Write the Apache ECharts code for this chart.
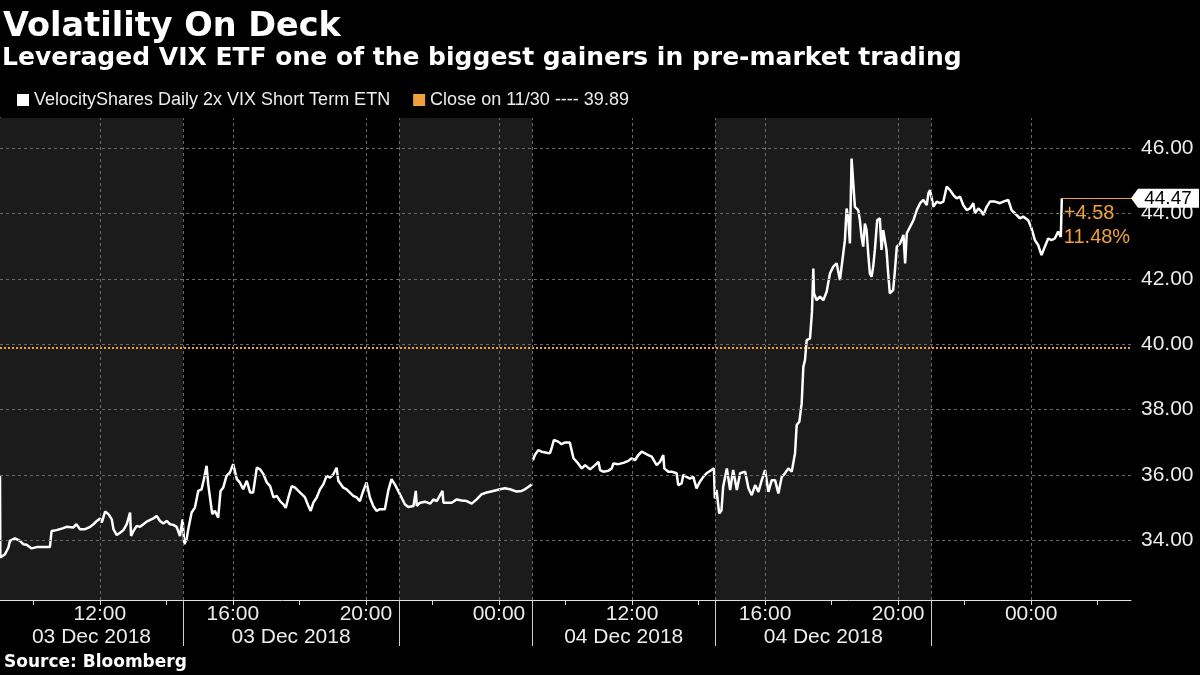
<!DOCTYPE html>
<html><head><meta charset="utf-8">
<script src="https://cdn.jsdelivr.net/npm/echarts@6/dist/echarts.min.js"></script>
<style>html,body{margin:0;padding:0;background:#000;}#c{width:1200px;height:675px;}</style>
</head><body><div id="c"></div>
<script>
// x values are trading hours elapsed since 09:00 London time, 3 Dec 2018 (the overnight gap is left out)
const etnHours = [
  0, 0.01, 0.15, 0.25, 0.30, 0.45, 0.50, 0.60, 0.70, 0.80, 0.95, 1.00, 1.10, 1.30, 1.50, 1.55, 1.70, 1.90, 2.00, 2.20,
  2.30, 2.40, 2.56, 2.71, 2.81, 2.91, 3.01, 3.06, 3.16, 3.26, 3.36, 3.41, 3.51, 3.61, 3.71, 3.81, 3.91, 3.94, 4.01, 4.11,
  4.21, 4.31, 4.41, 4.61, 4.71, 4.81, 4.91, 5.01, 5.11, 5.21, 5.31, 5.41, 5.49, 5.54, 5.61, 5.66, 5.76, 5.86, 5.96, 6.06,
  6.13, 6.21, 6.26, 6.31, 6.38, 6.46, 6.56, 6.63, 6.71, 6.81, 6.91, 7.01, 7.12, 7.21, 7.31, 7.42, 7.52, 7.61, 7.72, 7.82,
  7.92, 8.02, 8.12, 8.22, 8.32, 8.42, 8.52, 8.59, 8.67, 8.77, 8.87, 8.97, 9.07, 9.17, 9.27, 9.34, 9.42, 9.52, 9.62, 9.72,
  9.82, 9.92, 10.02, 10.12, 10.17, 10.32, 10.42, 10.52, 10.62, 10.72, 10.82, 10.92, 11.02, 11.12, 11.22, 11.32, 11.42, 11.57, 11.67, 11.77,
  11.87, 11.97, 12.07, 12.17, 12.27, 12.43, 12.50, 12.53, 12.63, 12.78, 12.93, 13.03, 13.13, 13.30, 13.33, 13.58, 13.73, 13.88, 14.03, 14.18,
  14.33, 14.48, 14.63, 14.83, 15.03, 15.18, 15.33, 15.53, 15.68, 15.78, 15.88, 15.98,
  16.00,
  16.02, 16.08, 16.18, 16.28, 16.43, 16.53, 16.58, 16.65, 16.78, 16.88, 16.98, 17.13, 17.24, 17.34, 17.49, 17.59, 17.74, 17.89, 17.99, 18.04,
  18.14, 18.29, 18.39, 18.44, 18.59, 18.74, 18.89, 18.99, 19.09, 19.19, 19.29, 19.39, 19.49, 19.59, 19.74, 19.84, 19.94, 19.97, 20.09, 20.19,
  20.34, 20.39, 20.49, 20.54, 20.64, 20.74, 20.84, 20.94, 21.04, 21.14, 21.24, 21.39, 21.46, 21.49, 21.54, 21.62, 21.69, 21.74, 21.85, 21.95,
  22.04, 22.15, 22.25, 22.40, 22.50, 22.60, 22.70, 22.80, 22.90, 23.00, 23.10, 23.20, 23.30, 23.40, 23.50, 23.60, 23.70, 23.80, 23.90, 23.95,
  24.03, 24.10, 24.15, 24.20, 24.25, 24.35, 24.41, 24.45, 24.47, 24.55, 24.65, 24.75, 24.85, 24.95, 25.05, 25.15, 25.25, 25.35, 25.40, 25.45,
  25.50, 25.55, 25.60, 25.65, 25.70, 25.80, 25.85, 25.90, 25.95, 26.00, 26.05, 26.10, 26.15, 26.20, 26.25, 26.30, 26.37, 26.45, 26.50, 26.55,
  26.65, 26.70, 26.75, 26.85, 26.90, 26.96, 27.06, 27.16, 27.21, 27.26, 27.36, 27.46, 27.56, 27.66, 27.76, 27.86, 27.91, 27.96, 28.06, 28.16,
  28.26, 28.36, 28.46, 28.56, 28.66, 28.76, 28.86, 28.96, 29.06, 29.16, 29.26, 29.31, 29.41, 29.51, 29.56, 29.66, 29.76, 29.91, 30.06, 30.16,
  30.31, 30.41, 30.56, 30.66, 30.76, 30.91, 31.01, 31.11, 31.21, 31.31, 31.41, 31.51, 31.61, 31.71, 31.81, 31.89, 31.92
];
const etnValues = [
  36.00, 33.47, 33.57, 33.77, 33.98, 34.06, 34.10, 33.98, 33.88, 33.86, 33.75, 33.71, 33.79, 33.79, 33.79, 34.28, 34.31, 34.37, 34.41, 34.39,
  34.49, 34.34, 34.34, 34.41, 34.49, 34.59, 34.67, 34.54, 34.88, 34.80, 34.64, 34.34, 34.16, 34.23, 34.31, 34.49, 34.85, 34.13, 34.28, 34.44,
  34.41, 34.49, 34.57, 34.67, 34.74, 34.59, 34.51, 34.59, 34.49, 34.47, 34.41, 34.13, 34.64, 33.88, 34.03, 34.34, 34.85, 35.00, 35.51, 35.56,
  35.87, 36.28, 35.71, 35.66, 34.80, 34.90, 34.69, 35.51, 35.61, 35.97, 36.07, 36.33, 35.87, 35.77, 35.56, 35.82, 35.46, 35.46, 36.22, 36.17,
  36.02, 35.77, 35.66, 35.31, 35.36, 35.20, 35.10, 34.99, 35.31, 35.66, 35.61, 35.51, 35.41, 35.31, 35.05, 34.90, 35.15, 35.31, 35.56, 35.71,
  35.97, 35.92, 36.02, 36.22, 35.82, 35.61, 35.56, 35.46, 35.36, 35.31, 35.20, 35.51, 35.77, 35.31, 35.05, 34.90, 34.95, 34.95, 35.51, 35.87,
  35.71, 35.51, 35.31, 35.10, 35.02, 35.05, 35.51, 35.05, 35.15, 35.18, 35.12, 35.25, 35.20, 35.51, 35.15, 35.15, 35.25, 35.22, 35.20, 35.12,
  35.25, 35.41, 35.46, 35.51, 35.56, 35.59, 35.56, 35.49, 35.51, 35.56, 35.63, 35.71,
  null,
  36.45, 36.61, 36.76, 36.71, 36.68, 36.66, 36.81, 37.07, 37.02, 36.94, 36.99, 36.99, 36.51, 36.40, 36.20, 36.30, 36.17, 36.30, 36.40, 36.15,
  36.10, 36.13, 36.20, 36.35, 36.33, 36.37, 36.43, 36.51, 36.45, 36.61, 36.71, 36.66, 36.61, 36.56, 36.30, 36.40, 36.61, 36.20, 36.10, 36.10,
  36.05, 35.69, 35.74, 36.00, 35.94, 35.89, 35.94, 35.59, 35.79, 35.94, 36.05, 36.15, 36.20, 35.28, 35.54, 34.82, 34.92, 35.64, 36.20, 35.54,
  36.15, 35.54, 36.05, 36.10, 35.59, 35.38, 35.69, 35.48, 35.84, 36.15, 35.48, 35.84, 35.84, 35.43, 35.94, 36.05, 36.20, 36.10, 36.66, 37.53,
  37.63, 38.19, 39.31, 39.52, 40.13, 40.18, 41.00, 42.32, 41.56, 41.35, 41.46, 41.35, 41.61, 42.17, 42.38, 42.48, 41.97, 42.78, 43.19, 44.16,
  43.86, 43.09, 45.69, 45.64, 44.21, 44.11, 43.80, 43.29, 42.99, 43.70, 43.50, 42.78, 42.17, 42.07, 42.38, 42.89, 43.80, 43.86, 42.89, 43.50,
  42.89, 42.17, 41.56, 41.66, 42.22, 42.99, 43.09, 43.35, 42.48, 43.40, 43.60, 43.80, 44.11, 44.32, 44.42, 44.26, 44.62, 44.72, 44.21, 44.37,
  44.32, 44.37, 44.83, 44.72, 44.57, 44.47, 44.52, 44.26, 44.11, 44.16, 44.32, 44.01, 44.16, 44.06, 43.96, 44.21, 44.37, 44.37, 44.32, 44.37,
  44.42, 44.11, 43.96, 43.86, 43.91, 43.80, 43.55, 43.19, 43.04, 42.73, 42.99, 43.24, 43.19, 43.24, 43.45, 43.29, 44.47
];
const closeValue = 39.89;
const lastValue = 44.47;
const changeAbs = '+4.58';
const changePct = '11.48%';
const hourTicks = [1, 3, 5, 7, 9, 11, 13, 15, 17, 19, 21, 23, 25, 27, 29, 31, 33];
const timeLabelHours = [3, 7, 11, 15, 19, 23, 27, 31];
const timeLabels = ['12:00', '16:00', '20:00', '00:00', '12:00', '16:00', '20:00', '00:00'];
const sessionBounds = [5.5, 12, 16, 21.5, 28];
const shadedSessions = [[0, 5.5], [12, 16], [21.5, 28]];
const dateLabelHours = [2.75, 8.75, 18.75, 24.75];
const dateLabels = ['03 Dec 2018', '03 Dec 2018', '04 Dec 2018', '04 Dec 2018'];
const yLabelValues = [34, 36, 38, 40, 42, 44, 46];
const yTickValues = [33, 34, 35, 36, 37, 38, 39, 40, 41, 42, 43, 44, 45, 46];
const seriesName = 'VelocityShares Daily 2x VIX Short Term ETN';
const closeName = 'Close on 11/30 ---- 39.89';

const FONT = 'Liberation Sans, Arial, sans-serif';
const BOLD_FONT = 'DejaVu Sans, sans-serif';
const TXT = '#ececec';
const ORANGE = '#f0a03a';
const etnData = etnHours.map((h, i) => [h, etnValues[i]]);
const xMin = 0, xMax = 34;

const chart = echarts.init(document.getElementById('c'), null, {renderer: 'canvas'});
chart.setOption({
  backgroundColor: '#000',
  animation: false,
  textStyle: {fontFamily: FONT},
  title: [
    {text: 'Volatility On Deck', left: 3, top: 10, padding: 0,
     textStyle: {color: '#fff', fontSize: 33.5, fontWeight: 'bold', fontFamily: BOLD_FONT}},
    {text: 'Leveraged VIX ETF one of the biggest gainers in pre-market trading', left: 2, top: 46, padding: 0,
     textStyle: {color: '#fff', fontSize: 25, fontWeight: 'bold', fontFamily: BOLD_FONT}},
    {text: 'Source: Bloomberg', left: 4, top: 654, padding: 0,
     textStyle: {color: '#fff', fontSize: 17, fontWeight: 'bold', fontFamily: BOLD_FONT}}
  ],
  legend: {
    data: [seriesName, closeName], left: 17, top: 91, padding: 0, icon: 'rect',
    itemWidth: 12, itemHeight: 12, itemGap: 23,
    textStyle: {color: TXT, fontSize: 18, fontFamily: FONT}
  },
  grid: {left: 0, right: 69, top: 118, bottom: 75, containLabel: false, outerBoundsMode: 'none'},
  xAxis: [
    {type: 'value', min: xMin, max: xMax, position: 'bottom',
     axisLine: {show: true, onZero: false, lineStyle: {color: '#e0e0e0', width: 1}},
     axisTick: {show: true, customValues: hourTicks, length: 5, lineStyle: {color: '#e0e0e0'}},
     axisLabel: {customValues: timeLabelHours, margin: 4, color: TXT, fontSize: 21, fontFamily: FONT,
       formatter: v => { const i = timeLabelHours.indexOf(v); return i < 0 ? '' : timeLabels[i]; }},
     splitLine: {show: false}},
    {type: 'value', min: xMin, max: xMax, position: 'bottom',
     axisLine: {show: false, onZero: false},
     axisTick: {show: true, customValues: sessionBounds, length: 46, lineStyle: {color: '#d0d0d0'}},
     axisLabel: {customValues: dateLabelHours, margin: 27, color: TXT, fontSize: 21, fontFamily: FONT,
       formatter: v => { const i = dateLabelHours.indexOf(v); return i < 0 ? '' : dateLabels[i]; }},
     splitLine: {show: false}}
  ],
  yAxis: {
    type: 'value', position: 'right', min: 32.17, max: 46.93, scale: true,
    axisLine: {show: true, lineStyle: {color: '#e0e0e0', width: 1}},
    axisTick: {show: true, customValues: yTickValues, length: 5, lineStyle: {color: '#e0e0e0'}},
    axisLabel: {customValues: yLabelValues, margin: 10, color: TXT, fontSize: 21, fontFamily: FONT,
      formatter: v => v.toFixed(2)},
    splitLine: {show: false}
  },
  series: [
    {name: 'bands', type: 'line', data: [], z: 1, silent: true,
     markArea: {silent: true, itemStyle: {color: '#1b1b1b'},
       data: shadedSessions.map(s => [{xAxis: s[0]}, {xAxis: s[1]}])}},
    {name: 'grid', type: 'line', data: [], z: 2, silent: true,
     markLine: {silent: true, symbol: 'none', label: {show: false},
       lineStyle: {color: '#6a6a6a', width: 1, type: [3, 3]},
       data: yLabelValues.map(v => ({yAxis: v}))
         .concat(timeLabelHours.map(h => ({xAxis: h})))
         .concat(sessionBounds.map(h => ({xAxis: h})))}},
    {name: closeName, type: 'line', z: 3, symbol: 'none', silent: true,
     data: [[xMin, closeValue], [xMax, closeValue]],
     color: ORANGE, lineStyle: {color: ORANGE, width: 2, type: 'dotted'}},
    {name: seriesName, type: 'line', z: 4, symbol: 'none', data: etnData, connectNulls: false,
     color: '#ffffff', lineStyle: {color: '#ffffff', width: 2.5}},
    {name: 'annot', type: 'line', data: [], z: 5, clip: false, silent: true,
     markLine: {silent: true, symbol: 'none',
       lineStyle: {color: ORANGE, width: 1, type: 'solid'},
       label: {show: true, position: 'insideStartBottom', distance: [2, 3],
         formatter: changeAbs + '\n' + changePct, color: ORANGE, fontSize: 20, lineHeight: 24,
         fontFamily: FONT, align: 'left'},
       data: [[{coord: [etnHours[etnHours.length - 1], lastValue]}, {coord: [xMax, lastValue]}]]},
     markPoint: {silent: true,
       symbol: 'path://M0,9 L7,0 L68,0 L68,18 L7,18 Z', symbolSize: [68, 19], symbolKeepAspect: false,
       symbolOffset: ['50%', 0], itemStyle: {color: '#ffffff'},
       label: {show: true, position: 'inside', offset: [3, 0], formatter: lastValue.toFixed(2),
         color: '#000', fontSize: 19, fontFamily: FONT},
       data: [{coord: [xMax, lastValue]}]}}
  ]
});
</script></body></html>
